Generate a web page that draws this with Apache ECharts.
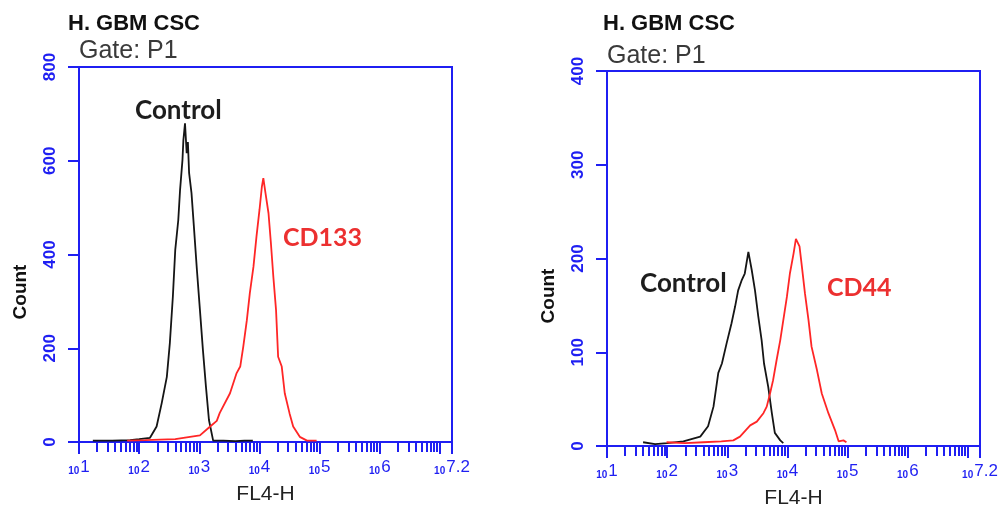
<!DOCTYPE html>
<html>
<head>
<meta charset="utf-8">
<title>H. GBM CSC – FL4-H histograms</title>
<script src="https://cdn.jsdelivr.net/npm/echarts@6.0.0/dist/echarts.min.js"></script>
<style>
  html, body { margin: 0; padding: 0; background: #fff; }
  #chart { width: 1003px; height: 507px; }
</style>
</head>
<body>
<div id="chart"></div>
<script>
// FL4-H is plotted in decades: each x value is log10(FL4-H).
// Panel A: CD133 staining vs isotype control
const controlA = [
  [1.23, 3], [1.55, 3], [1.85, 4], [2.0, 6], [2.18, 9], [2.29, 33], [2.375, 83],
  [2.46, 139], [2.51, 211], [2.56, 310], [2.60, 410], [2.65, 473], [2.68, 538],
  [2.72, 602], [2.735, 644], [2.762, 680], [2.79, 616], [2.81, 640], [2.83, 574],
  [2.87, 531], [2.91, 459], [2.96, 367], [3.01, 282], [3.06, 196], [3.11, 118],
  [3.16, 47], [3.23, 3], [3.4, 3], [3.6, 2], [3.75, 3], [3.89, 3]
];
const cd133 = [
  [1.80, 3], [2.1, 4], [2.35, 5], [2.6, 6], [2.9, 12], [3.01, 14], [3.18, 33],
  [3.29, 45], [3.34, 62], [3.51, 104], [3.62, 147], [3.68, 161], [3.73, 203],
  [3.79, 260], [3.84, 318], [3.90, 374], [3.95, 438], [4.00, 495], [4.04, 545],
  [4.064, 563], [4.10, 531], [4.15, 488], [4.19, 424], [4.23, 353], [4.275, 282],
  [4.31, 182], [4.37, 161], [4.42, 104], [4.50, 61], [4.56, 33], [4.67, 11],
  [4.79, 3], [4.95, 3]
];

// Panel B: CD44 staining vs isotype control
const controlB = [
  [1.6, 4], [1.8, 2], [2.0, 3], [2.27, 5], [2.55, 10], [2.68, 21], [2.77, 42],
  [2.85, 78], [2.91, 88], [2.99, 110], [3.07, 131], [3.13, 149], [3.18, 166],
  [3.24, 177], [3.29, 184], [3.35, 207], [3.405, 188], [3.46, 166], [3.515, 138],
  [3.57, 113], [3.61, 88], [3.68, 63], [3.74, 35], [3.79, 14], [3.88, 6], [3.93, 3]
];
const cd44 = [
  [1.99, 4], [2.3, 3], [2.6, 4], [2.9, 5], [3.1, 6], [3.21, 10], [3.38, 22],
  [3.49, 26], [3.6, 35], [3.655, 42], [3.71, 56], [3.76, 70], [3.82, 92],
  [3.88, 113], [3.93, 134], [3.99, 159], [4.04, 184], [4.10, 205], [4.14, 221],
  [4.20, 213], [4.24, 191], [4.29, 163], [4.35, 134], [4.40, 106], [4.49, 81],
  [4.57, 56], [4.68, 35], [4.79, 17], [4.85, 5], [4.93, 6], [4.98, 4]
];

// Axis ranges, tick positions and tick labels
const decadeMin = 1;
const decadeMax = 7.2;
const decadeTicks = [1, 2, 3, 4, 5, 6, 7, 7.2];
const decadeLabels = [1, 2, 3, 4, 5, 6, 7.2];
const countMaxA = 800, countStepA = 200;
const countMaxB = 400, countStepB = 100;

// minor ticks at 2..9 × 10^d inside the range
const minorTicks = [];
for (let d = 1; d < 7; d++) {
  for (let k = 2; k <= 9; k++) minorTicks.push(d + Math.log10(k));
}

const BLUE = '#1f1ff2';
const RED = '#ff2626';
const BLACK = '#151515';

const grids = [
  { left: 79, top: 67, width: 373, height: 375 },
  { left: 607, top: 71, width: 373, height: 375 }
];

function xAxesFor(gi) {
  return [
    {
      type: 'value', gridIndex: gi, min: decadeMin, max: decadeMax, position: 'bottom',
      name: 'FL4-H', nameLocation: 'middle', nameGap: 42,
      nameTextStyle: { color: '#222', fontSize: 21, fontFamily: 'Liberation Sans' },
      axisLine: { show: true, onZero: false, lineStyle: { color: BLUE, width: 2 } },
      splitLine: { show: false },
      axisTick: {
        show: true, inside: false, length: 12, customValues: decadeTicks,
        lineStyle: { color: BLUE, width: 2 }
      },
      axisLabel: {
        show: true, margin: 17, customValues: decadeLabels, hideOverlap: false,
        formatter: v => '{b|10}{e|' + (Math.abs(v - 7.2) < 1e-6 ? '7.2' : String(Math.round(v))) + '}',
        rich: {
          b: { fontSize: 10, color: BLUE, fontWeight: 'bold', fontFamily: 'Liberation Sans', verticalAlign: 'bottom', padding: [7, 1, 0, 0] },
          e: { fontSize: 17, color: BLUE, fontFamily: 'Liberation Sans', verticalAlign: 'top' }
        }
      }
    },
    {
      type: 'value', gridIndex: gi, min: decadeMin, max: decadeMax, position: 'bottom',
      axisLine: { show: false, onZero: false },
      splitLine: { show: false },
      axisLabel: { show: false },
      axisTick: {
        show: true, inside: false, length: 10, customValues: minorTicks,
        lineStyle: { color: BLUE, width: 2 }
      }
    }
  ];
}

function yAxisFor(gi, max, step) {
  return {
    type: 'value', gridIndex: gi, min: 0, max: max, interval: step, position: 'left',
    axisLine: { show: true, onZero: false, lineStyle: { color: BLUE, width: 2 } },
    splitLine: { show: false },
    axisTick: { show: true, length: 11, lineStyle: { color: BLUE, width: 2 } },
    axisLabel: {
      rotate: 90, margin: 20, color: BLUE, fontSize: 17, fontWeight: 'bold',
      fontFamily: 'Liberation Sans'
    }
  };
}

function histSeries(data, xi, yi, color) {
  return {
    type: 'line', data: data, xAxisIndex: xi, yAxisIndex: yi,
    showSymbol: false, symbol: 'none', silent: true,
    lineStyle: { color: color, width: 1.8 }, z: 5
  };
}

function label(text, x, y, font, fill, rot) {
  return {
    type: 'text', x: x, y: y, rotation: rot || 0, z: 10,
    style: { text: text, font: font, fill: fill, align: rot ? 'center' : 'left', verticalAlign: 'middle' }
  };
}

const chart = echarts.init(document.getElementById('chart'), null, { renderer: 'canvas' });
chart.setOption({
  backgroundColor: '#ffffff',
  animation: false,
  grid: grids.map(g => Object.assign({
    show: true, borderColor: BLUE, borderWidth: 2, backgroundColor: 'transparent',
    containLabel: false, outerBoundsMode: 'none'
  }, g)),
  xAxis: [...xAxesFor(0), ...xAxesFor(1)],
  yAxis: [yAxisFor(0, countMaxA, countStepA), yAxisFor(1, countMaxB, countStepB)],
  series: [
    histSeries(controlA, 0, 0, BLACK),
    histSeries(cd133, 0, 0, RED),
    histSeries(controlB, 2, 1, BLACK),
    histSeries(cd44, 2, 1, RED)
  ],
  graphic: [
    label('H. GBM CSC', 68, 23.5, 'bold 22px "Liberation Sans"', '#111'),
    label('Gate: P1', 79, 51.5, '25px "Liberation Sans"', '#3a3a3a'),
    label('H. GBM CSC', 603, 23.5, 'bold 22px "Liberation Sans"', '#111'),
    label('Gate: P1', 607, 56, '25px "Liberation Sans"', '#3a3a3a'),
    label('Count', 21, 292, 'bold 19px "Liberation Sans"', '#111', Math.PI / 2),
    label('Count', 549, 296, 'bold 19px "Liberation Sans"', '#111', Math.PI / 2),
    label('Control', 135, 111, 'bold 26px Lato', '#1d1d1d'),
    label('CD133', 283, 238, 'bold 25px Lato', '#ec3030'),
    label('Control', 640, 284, 'bold 26px Lato', '#1d1d1d'),
    label('CD44', 827, 288, 'bold 25px Lato', '#ec3030')
  ]
});
</script>
</body>
</html>
